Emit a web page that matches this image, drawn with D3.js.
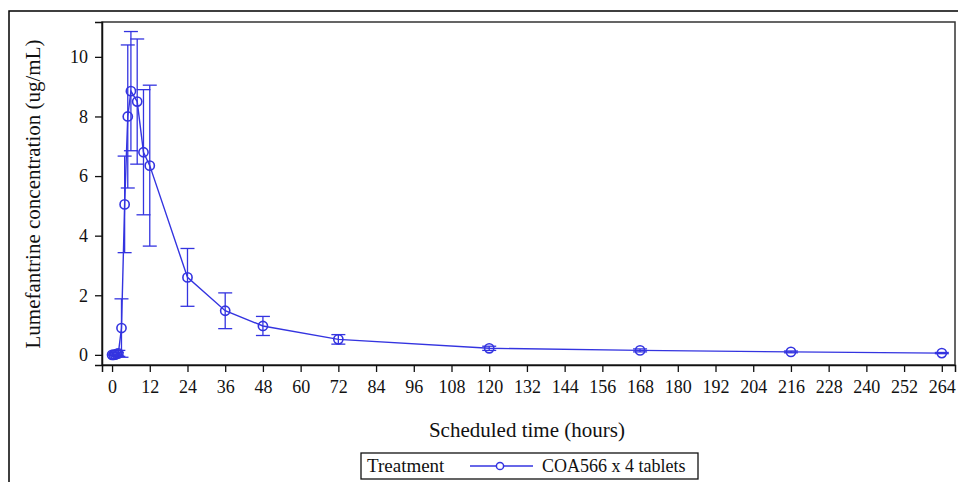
<!DOCTYPE html>
<html>
<head>
<meta charset="utf-8">
<script src="https://cdn.jsdelivr.net/npm/d3@7"></script>
<style>
  body { margin: 0; background: #fff; }
  svg text { font-family: "Liberation Serif", "Times New Roman", serif; fill: #111; }
</style>
</head>
<body>
<svg id="chart" width="958" height="482"></svg>
<script>
// scheduled sampling times (hours) and mean +/- SD lumefantrine concentration (ug/mL)
const times = [0, 0.5, 1, 1.5, 2, 3, 4, 5, 6, 8, 10, 12, 24, 36, 48, 72, 120, 168, 216, 264];
const meanConc = [0, 0, 0.01, 0.03, 0.05, 0.9, 5.05, 8.0, 8.85, 8.5, 6.8, 6.35, 2.6, 1.48, 0.97, 0.52, 0.22, 0.15, 0.1, 0.06];
const sdConc = [0, 0, 0.02, 0.05, 0.1, 0.98, 1.62, 2.4, 2.0, 2.1, 2.1, 2.7, 0.97, 0.6, 0.32, 0.16, 0.07, 0.05, 0.03, 0.02];

const xTicks = d3.range(0, 265, 12);
const yTicks = [0, 2, 4, 6, 8, 10];

const legendTitle = "Treatment";
const seriesName = "COA566 x 4 tablets";
const xTitle = "Scheduled time (hours)";
const yTitle = "Lumefantrine concentration (ug/mL)";

const blue = "#3434e0";

function drawChart() {
  const svg = d3.select("#chart");

  const plot = { left: 102, right: 955, top: 22, bottom: 365 };

  const x = d3.scaleLinear()
    .domain([-3.2, 268.2])
    .range([plot.left, plot.right]);

  const y = d3.scaleLinear()
    .domain([-0.34, 11.17])
    .range([plot.bottom, plot.top]);

  // outer border of the figure (runs off the bottom/right edge)
  svg.append("rect")
    .attr("x", 9)
    .attr("y", 11)
    .attr("width", 980)
    .attr("height", 500)
    .attr("fill", "none")
    .attr("stroke", "#000")
    .attr("stroke-width", 1.5);

  // plot frame
  svg.append("rect")
    .attr("x", plot.left)
    .attr("y", plot.top)
    .attr("width", plot.right - plot.left)
    .attr("height", plot.bottom - plot.top)
    .attr("fill", "none")
    .attr("stroke", "#333")
    .attr("stroke-width", 1.5);

  const xAxis = svg.append("g")
    .attr("transform", `translate(0,${plot.bottom})`)
    .call(d3.axisBottom(x).tickValues(xTicks).tickSize(7).tickPadding(8));

  const yAxis = svg.append("g")
    .attr("transform", `translate(${plot.left},0)`)
    .call(d3.axisLeft(y).tickValues(yTicks).tickSize(7).tickPadding(7));

  [xAxis, yAxis].forEach(function (g) {
    g.attr("font-family", null).attr("font-size", null);
    g.select(".domain").attr("stroke", "#111").attr("stroke-width", 1.5);
    g.selectAll(".tick line").attr("stroke", "#111").attr("stroke-width", 1.3);
    g.selectAll(".tick text")
      .attr("fill", "#111")
      .style("font-size", "18px");
  });

  svg.append("text")
    .attr("x", (x(0) + x(264)) / 2)
    .attr("y", 437)
    .attr("text-anchor", "middle")
    .style("font-size", "21px")
    .text(xTitle);

  svg.append("text")
    .attr("transform", "rotate(-90)")
    .attr("x", -194)
    .attr("y", 40)
    .attr("text-anchor", "middle")
    .style("font-size", "21px")
    .text(yTitle);

  // error bars
  const capHalf = 7;
  const bars = svg.append("g")
    .attr("stroke", blue)
    .attr("stroke-width", 1.3)
    .attr("fill", "none");

  times.forEach(function (t, i) {
    if (sdConc[i] <= 0) return;
    const lo = meanConc[i] - sdConc[i];
    const hi = meanConc[i] + sdConc[i];
    bars.append("line")
      .attr("x1", x(t)).attr("x2", x(t))
      .attr("y1", y(lo)).attr("y2", y(hi));
    [lo, hi].forEach(function (v) {
      bars.append("line")
        .attr("x1", x(t) - capHalf).attr("x2", x(t) + capHalf)
        .attr("y1", y(v)).attr("y2", y(v));
    });
  });

  const line = d3.line()
    .x(function (d, i) { return x(times[i]); })
    .y(function (d) { return y(d); });

  svg.append("path")
    .datum(meanConc)
    .attr("d", line)
    .attr("fill", "none")
    .attr("stroke", blue)
    .attr("stroke-width", 1.4);

  svg.selectAll(".marker")
    .data(meanConc)
    .enter()
    .append("circle")
    .attr("class", "marker")
    .attr("cx", function (d, i) { return x(times[i]); })
    .attr("cy", function (d) { return y(d); })
    .attr("r", 4.6)
    .attr("fill", "none")
    .attr("stroke", blue)
    .attr("stroke-width", 1.6);

  // legend
  const legend = svg.append("g");
  legend.append("rect")
    .attr("x", 361)
    .attr("y", 453)
    .attr("width", 337)
    .attr("height", 26)
    .attr("fill", "#fff")
    .attr("stroke", "#111")
    .attr("stroke-width", 1.3);

  legend.append("text")
    .attr("x", 367)
    .attr("y", 472)
    .style("font-size", "19px")
    .text(legendTitle);

  legend.append("line")
    .attr("x1", 470).attr("x2", 533)
    .attr("y1", 466).attr("y2", 466)
    .attr("stroke", blue)
    .attr("stroke-width", 1.3);

  legend.append("circle")
    .attr("cx", 500)
    .attr("cy", 466)
    .attr("r", 3.6)
    .attr("fill", "#fff")
    .attr("stroke", blue)
    .attr("stroke-width", 1.5);

  legend.append("text")
    .attr("x", 542)
    .attr("y", 472)
    .style("font-size", "18px")
    .text(seriesName);
}

document.addEventListener("DOMContentLoaded", drawChart);
</script>
</body>
</html>
